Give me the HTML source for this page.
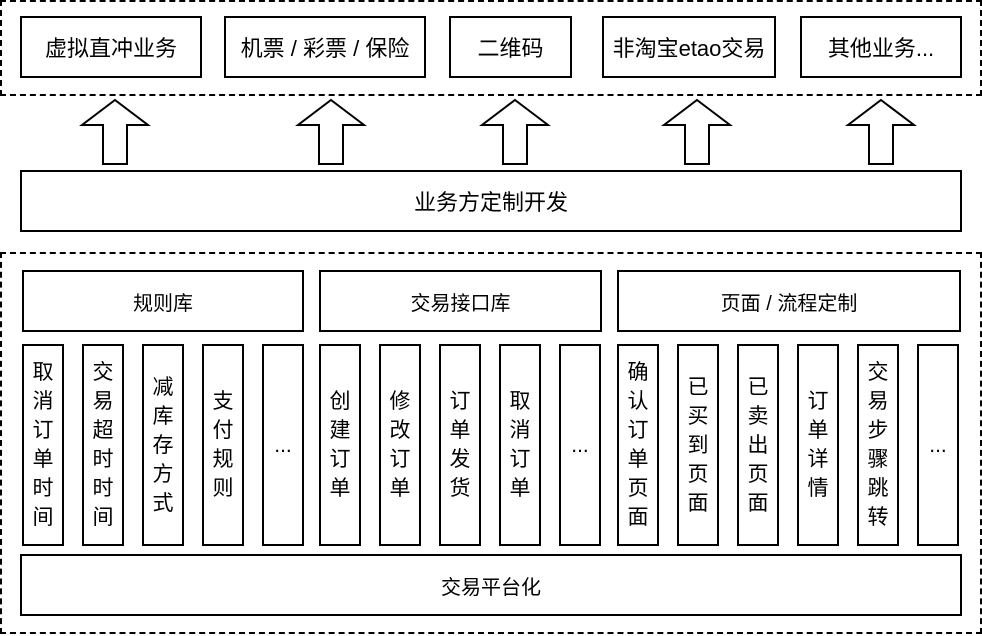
<!DOCTYPE html>
<html><head><meta charset="utf-8"><style>
body{margin:0;width:982px;height:636px;background:#fff;position:relative;overflow:hidden;font-family:"Liberation Sans","Noto Sans CJK SC",sans-serif;color:#000}
.b{position:absolute;box-sizing:border-box;border:2px solid #000;display:flex;align-items:center;justify-content:center;text-align:center;background:#fff}
.d{position:absolute;box-sizing:border-box;border:2px dashed #000}
.t{font-size:22px}
.m{font-size:20px}
.v{font-size:21px;line-height:29px}
</style></head><body>
<div class="d" style="left:0;top:0;width:982px;height:96px"></div>
<div class="b t" style="left:20px;top:16px;width:182px;height:62px">虚拟直冲业务</div>
<div class="b t" style="left:224px;top:16px;width:202px;height:62px">机票 / 彩票 / 保险</div>
<div class="b t" style="left:449px;top:16px;width:123px;height:62px">二维码</div>
<div class="b t" style="left:602px;top:16px;width:174px;height:62px">非淘宝etao交易</div>
<div class="b t" style="left:800px;top:16px;width:162px;height:62px">其他业务...</div>
<svg style="position:absolute;left:0;top:0" width="982" height="636">
<g fill="#fff" stroke="#000" stroke-width="2">
<polygon points="115,100 148,125 127,125 127,164 103,164 103,125 82,125"/>
<polygon points="331,100 364,125 343,125 343,164 319,164 319,125 298,125"/>
<polygon points="515,100 548,125 527,125 527,164 503,164 503,125 482,125"/>
<polygon points="697,100 730,125 709,125 709,164 685,164 685,125 664,125"/>
<polygon points="881,100 914,125 893,125 893,164 869,164 869,125 848,125"/>
</g></svg>
<div class="b t" style="left:20px;top:170px;width:942px;height:62px">业务方定制开发</div>
<div class="d" style="left:0;top:252px;width:982px;height:382px"></div>
<div class="b m" style="left:22px;top:270px;width:282px;height:62px">规则库</div>
<div class="b m" style="left:319px;top:270px;width:283px;height:62px">交易接口库</div>
<div class="b m" style="left:617px;top:270px;width:344px;height:62px">页面 / 流程定制</div>
<div class="b v" style="left:22px;top:344px;width:42px;height:202px">取<br>消<br>订<br>单<br>时<br>间</div>
<div class="b v" style="left:82px;top:344px;width:42px;height:202px">交<br>易<br>超<br>时<br>时<br>间</div>
<div class="b v" style="left:142px;top:344px;width:42px;height:202px">减<br>库<br>存<br>方<br>式</div>
<div class="b v" style="left:202px;top:344px;width:42px;height:202px">支<br>付<br>规<br>则</div>
<div class="b v" style="left:262px;top:344px;width:42px;height:202px">...</div>
<div class="b v" style="left:319px;top:344px;width:42px;height:202px">创<br>建<br>订<br>单</div>
<div class="b v" style="left:379px;top:344px;width:42px;height:202px">修<br>改<br>订<br>单</div>
<div class="b v" style="left:439px;top:344px;width:42px;height:202px">订<br>单<br>发<br>货</div>
<div class="b v" style="left:499px;top:344px;width:42px;height:202px">取<br>消<br>订<br>单</div>
<div class="b v" style="left:559px;top:344px;width:42px;height:202px">...</div>
<div class="b v" style="left:617px;top:344px;width:42px;height:202px">确<br>认<br>订<br>单<br>页<br>面</div>
<div class="b v" style="left:677px;top:344px;width:42px;height:202px">已<br>买<br>到<br>页<br>面</div>
<div class="b v" style="left:737px;top:344px;width:42px;height:202px">已<br>卖<br>出<br>页<br>面</div>
<div class="b v" style="left:797px;top:344px;width:42px;height:202px">订<br>单<br>详<br>情</div>
<div class="b v" style="left:857px;top:344px;width:42px;height:202px">交<br>易<br>步<br>骤<br>跳<br>转</div>
<div class="b v" style="left:917px;top:344px;width:42px;height:202px">...</div>
<div class="b m" style="left:20px;top:554px;width:942px;height:62px">交易平台化</div>
</body></html>
